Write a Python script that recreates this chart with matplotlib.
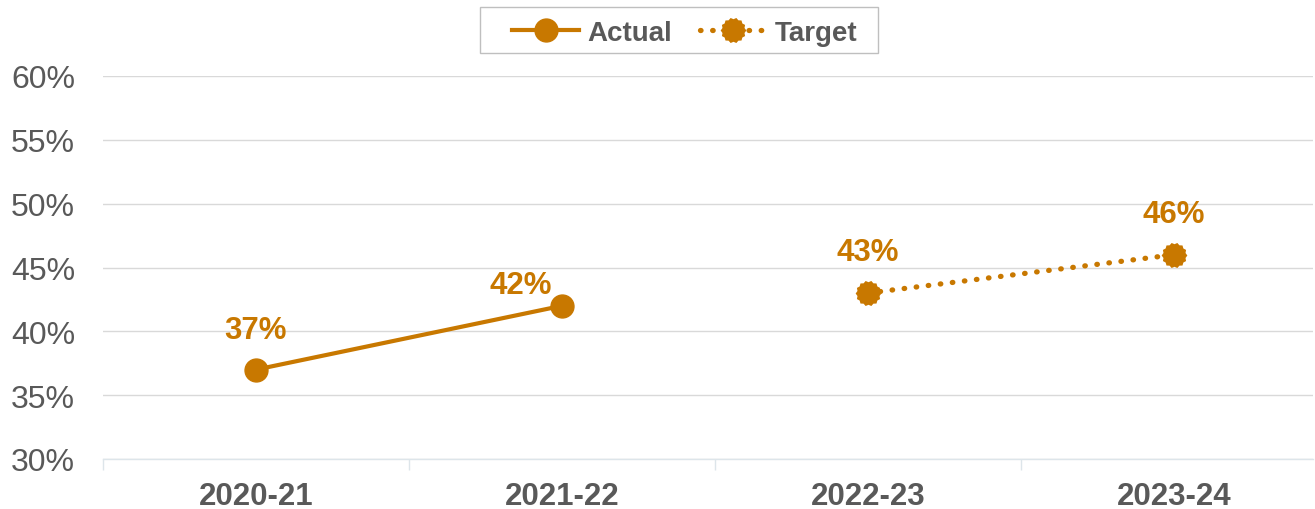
import matplotlib
matplotlib.use("Agg")
import matplotlib.pyplot as plt
import numpy as np
from matplotlib.path import Path
from matplotlib.patches import Rectangle
from matplotlib.ticker import FuncFormatter

categories = ["2020-21", "2021-22", "2022-23", "2023-24"]
actual = [37, 42, None, None]
target = [None, None, 43, 46]
yticks = [30, 35, 40, 45, 50, 55, 60]

ORANGE = "#C87800"
GRAY = "#595959"
plt.rcParams['font.family'] = ['Liberation Sans', 'DejaVu Sans']

# jagged circle marker for target
n = 28
ang = np.linspace(0, 2 * np.pi, n, endpoint=False)
r = np.where(np.arange(n) % 2 == 0, 1.0, 0.88)
verts = np.column_stack([r * np.cos(ang), r * np.sin(ang)])
verts = np.vstack([verts, verts[:1]])
codes = [Path.MOVETO] + [Path.LINETO] * (n - 1) + [Path.CLOSEPOLY]
jag = Path(verts, codes)

W, H = 1315, 510
fig = plt.figure(figsize=(W / 100, H / 100), dpi=100)
ax = fig.add_axes([103 / W, 50 / H, (1313 - 103) / W, 383 / H])

x = np.arange(len(categories))
ax_idx = [i for i, v in enumerate(actual) if v is not None]
ta_idx = [i for i, v in enumerate(target) if v is not None]
av = [actual[i] for i in ax_idx]
tv = [target[i] for i in ta_idx]

la, = ax.plot(ax_idx, av, color=ORANGE, lw=3.0, marker='o', ms=16.5,
              mfc=ORANGE, mec=ORANGE, zorder=3, label="Actual")
lt, = ax.plot(ta_idx, tv, color=ORANGE, lw=3.8, ls=(0, (0.1, 2.2)),
              dash_capstyle='round', marker=jag, ms=18.5, mfc=ORANGE,
              mec=ORANGE, mew=0, zorder=3, label="Target")

offsets = {0: (0, 28.5), 1: (-29.5, 15), 2: (0, 29.5), 3: (0, 29.5)}
for i, v in zip(ax_idx, av):
    ax.annotate(f"{v}%", (i, v), xytext=offsets[i], textcoords='offset points',
                ha='center', va='center', color=ORANGE, fontsize=22.5,
                fontweight='bold')
for i, v in zip(ta_idx, tv):
    ax.annotate(f"{v}%", (i, v), xytext=offsets[i], textcoords='offset points',
                ha='center', va='center', color=ORANGE, fontsize=22.5,
                fontweight='bold')

ax.set_yticks(yticks)
ax.yaxis.set_major_formatter(FuncFormatter(lambda v, p: f"{v:.0f}%"))
ax.grid(axis='y', color='#D9D9D9', lw=1)
ax.set_axisbelow(True)
ax.tick_params(axis='y', length=0, labelsize=23, labelcolor=GRAY, pad=20)
ax.set_xticks(x)
ax.set_xticklabels(categories, fontsize=22.5, fontweight='bold', color=GRAY)
ax.set_xticks(np.arange(-0.5, len(categories), 1.0), minor=True)
ax.tick_params(axis='x', which='major', length=0, pad=15.5)
ax.tick_params(axis='x', which='minor', length=8, color='#DDE5EA', width=1)
ax.set_xlim(-0.5, (1313 - 103) / 306 - 0.5)
ax.set_ylim(30, 60)
for s in ['top', 'right', 'left']:
    ax.spines[s].set_visible(False)
ax.spines['bottom'].set_color('#DDE5EA')
ax.spines['bottom'].set_linewidth(1)

# legend frame
fig.patches.append(Rectangle((480 / W, 1 - 54 / H), (878 - 480) / W, 46 / H,
                             transform=fig.transFigure, fill=False,
                             edgecolor='#BFBFBF', lw=1))
leg = fig.legend(handles=[la, lt], loc='center', bbox_to_anchor=(685 / W, 1 - 34 / H),
                 ncol=2, frameon=False, fontsize=20,
                 handlelength=2.4, columnspacing=1.0, handletextpad=0.3,
                 borderpad=0.0)
for t in leg.get_texts():
    t.set_color(GRAY)
    t.set_fontweight('bold')

fig.savefig("out.png", dpi=100)
